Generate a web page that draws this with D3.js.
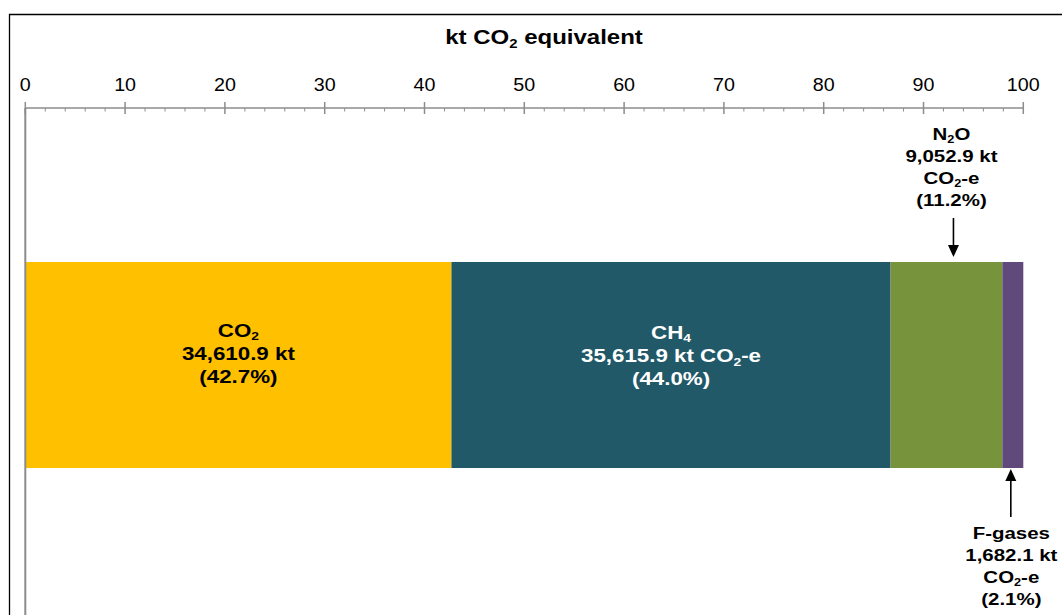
<!DOCTYPE html>
<html>
<head>
<meta charset="utf-8">
<script src="https://cdn.jsdelivr.net/npm/d3@7"></script>
<style>
  html, body { margin: 0; padding: 0; background: #fff; }
  svg { display: block; }
  text { font-family: "Liberation Sans", Arial, sans-serif; }
</style>
</head>
<body>
<script>
// ---- data ----
const categories = ["CO2", "CH4", "N2O", "F-gases"];
const ktValues = [34610.9, 35615.9, 9052.9, 1682.1];
const shares = [42.7, 44.0, 11.2, 2.1];
const colors = ["#FFC000", "#215968", "#77933C", "#604A7B"];
const majorTicks = [0, 10, 20, 30, 40, 50, 60, 70, 80, 90, 100];
const minorTicks = d3.range(0, 101, 2);
const axisTitle = "kt CO2 equivalent";

// label text lines: arrays of [text parts]; parts with sub:true are subscripts
const labelLines = [
  [[{t:"CO"},{t:"2",sub:true}], [{t:"34,610.9 kt"}], [{t:"(42.7%)"}]],
  [[{t:"CH"},{t:"4",sub:true}], [{t:"35,615.9 kt CO"},{t:"2",sub:true},{t:"-e"}], [{t:"(44.0%)"}]],
  [[{t:"N"},{t:"2",sub:true},{t:"O"}], [{t:"9,052.9 kt"}], [{t:"CO"},{t:"2",sub:true},{t:"-e"}], [{t:"(11.2%)"}]],
  [[{t:"F-gases"}], [{t:"1,682.1 kt"}], [{t:"CO"},{t:"2",sub:true},{t:"-e"}], [{t:"(2.1%)"}]]
];

const W = 1062, H = 615;
const svg = d3.select("body").append("svg").attr("width", W).attr("height", H);

const x = d3.scaleLinear().domain([0, 100]).range([25.3, 1023.3]);
const y = d3.scaleBand().domain(["Total"]).range([115, 615]).padding(0.4164);

const axisY = 108;
const gray = "#8c8c8c";

// frame
svg.append("path")
  .attr("d", `M9.5,${H} V14.5 H${W}`)
  .attr("fill", "none").attr("stroke", "#000").attr("stroke-width", 1.3);

// stacked segments
let cum = 0;
const segs = shares.map((s, i) => { const d = {i, x0: cum, x1: cum + s}; cum += s; return d; });

svg.append("g").selectAll("rect").data(segs).join("rect")
  .attr("x", d => x(d.x0))
  .attr("width", d => x(d.x1) - x(d.x0))
  .attr("y", y("Total"))
  .attr("height", y.bandwidth())
  .attr("fill", d => colors[d.i]);

// axis
const ax = svg.append("g");
ax.append("line").attr("x1", x(0)).attr("x2", x(100)).attr("y1", axisY).attr("y2", axisY)
  .attr("stroke", gray).attr("stroke-width", 1.5);
ax.append("line").attr("x1", x(0)).attr("x2", x(0)).attr("y1", axisY).attr("y2", H)
  .attr("stroke", gray).attr("stroke-width", 2);
ax.selectAll("line.minor").data(minorTicks.filter(v => v % 10 !== 0)).join("line")
  .attr("class", "minor")
  .attr("x1", d => x(d)).attr("x2", d => x(d)).attr("y1", axisY).attr("y2", axisY + 3.5)
  .attr("stroke", gray).attr("stroke-width", 1);
ax.selectAll("line.major").data(majorTicks).join("line")
  .attr("class", "major")
  .attr("x1", d => x(d)).attr("x2", d => x(d)).attr("y1", axisY - 6).attr("y2", axisY + 6)
  .attr("stroke", gray).attr("stroke-width", 1.5);
ax.selectAll("text.tick").data(majorTicks).join("text")
  .attr("class", "tick")
  .attr("transform", d => `translate(${x(d)},91) scale(1.06,1)`)
  .attr("text-anchor", "middle")
  .attr("font-size", 18.6)
  .attr("fill", "#000")
  .text(d => d);

// helper for rich text line
function richLine(g, parts, size) {
  const t = g.append("text").attr("text-anchor", "middle").attr("font-size", size).attr("font-weight", "bold");
  parts.forEach(p => {
    if (p.sub) {
      t.append("tspan").attr("font-size", size * 0.62).attr("dy", size * 0.2).text(p.t);
    } else {
      const ts = t.append("tspan").text(p.t);
      if (t.node().childNodes.length > 1) {
        const prev = parts[parts.indexOf(p) - 1];
        if (prev && prev.sub) ts.attr("dy", -size * 0.2);
      }
    }
  });
  return t;
}

// title
const tg = svg.append("g").attr("transform", `translate(544,44) scale(1.2,1)`);
richLine(tg, [{t:"kt CO"},{t:"2",sub:true},{t:" equivalent"}], 20).attr("fill", "#000");

// labels inside bars (CO2, CH4)
const barMid = y("Total") + y.bandwidth() / 2;
[0, 1].forEach(i => {
  const cx = x((segs[i].x0 + segs[i].x1) / 2);
  const base = barMid - 28.5 + (i === 1 ? 2 : 0);
  labelLines[i].forEach((parts, k) => {
    const g = svg.append("g").attr("transform", `translate(${cx},${base + k * 23.3}) scale(1.2,1)`);
    richLine(g, parts, 18.6).attr("fill", i === 1 ? "#fff" : "#000");
  });
});

// arrow helper
function arrow(xp, yFrom, yTip) {
  const dir = yTip > yFrom ? 1 : -1;
  const headLen = 12, headW = 5.5;
  svg.append("line").attr("x1", xp).attr("x2", xp).attr("y1", yFrom).attr("y2", yTip - dir * headLen + dir)
    .attr("stroke", "#000").attr("stroke-width", 1.6);
  svg.append("path")
    .attr("d", `M${xp - headW},${yTip - dir * headLen} L${xp + headW},${yTip - dir * headLen} L${xp},${yTip} Z`)
    .attr("fill", "#000");
}

// N2O label above
{
  const i = 2;
  const mid = x((segs[i].x0 + segs[i].x1) / 2);
  labelLines[i].forEach((parts, k) => {
    const g = svg.append("g").attr("transform", `translate(${mid + 5},${139.5 + k * 22.1}) scale(1.19,1)`);
    richLine(g, parts, 17.2).attr("fill", "#000");
  });
  arrow(mid + 7, 218, y("Total") - 5);
}
// F-gases label below
{
  const i = 3;
  const mid = x((segs[i].x0 + segs[i].x1) / 2);
  labelLines[i].forEach((parts, k) => {
    const g = svg.append("g").attr("transform", `translate(${mid - 1.5},${539 + k * 22}) scale(1.19,1)`);
    richLine(g, parts, 17.2).attr("fill", "#000");
  });
  arrow(mid - 2, 517, y("Total") + y.bandwidth() + 1);
}
</script>
</body>
</html>
